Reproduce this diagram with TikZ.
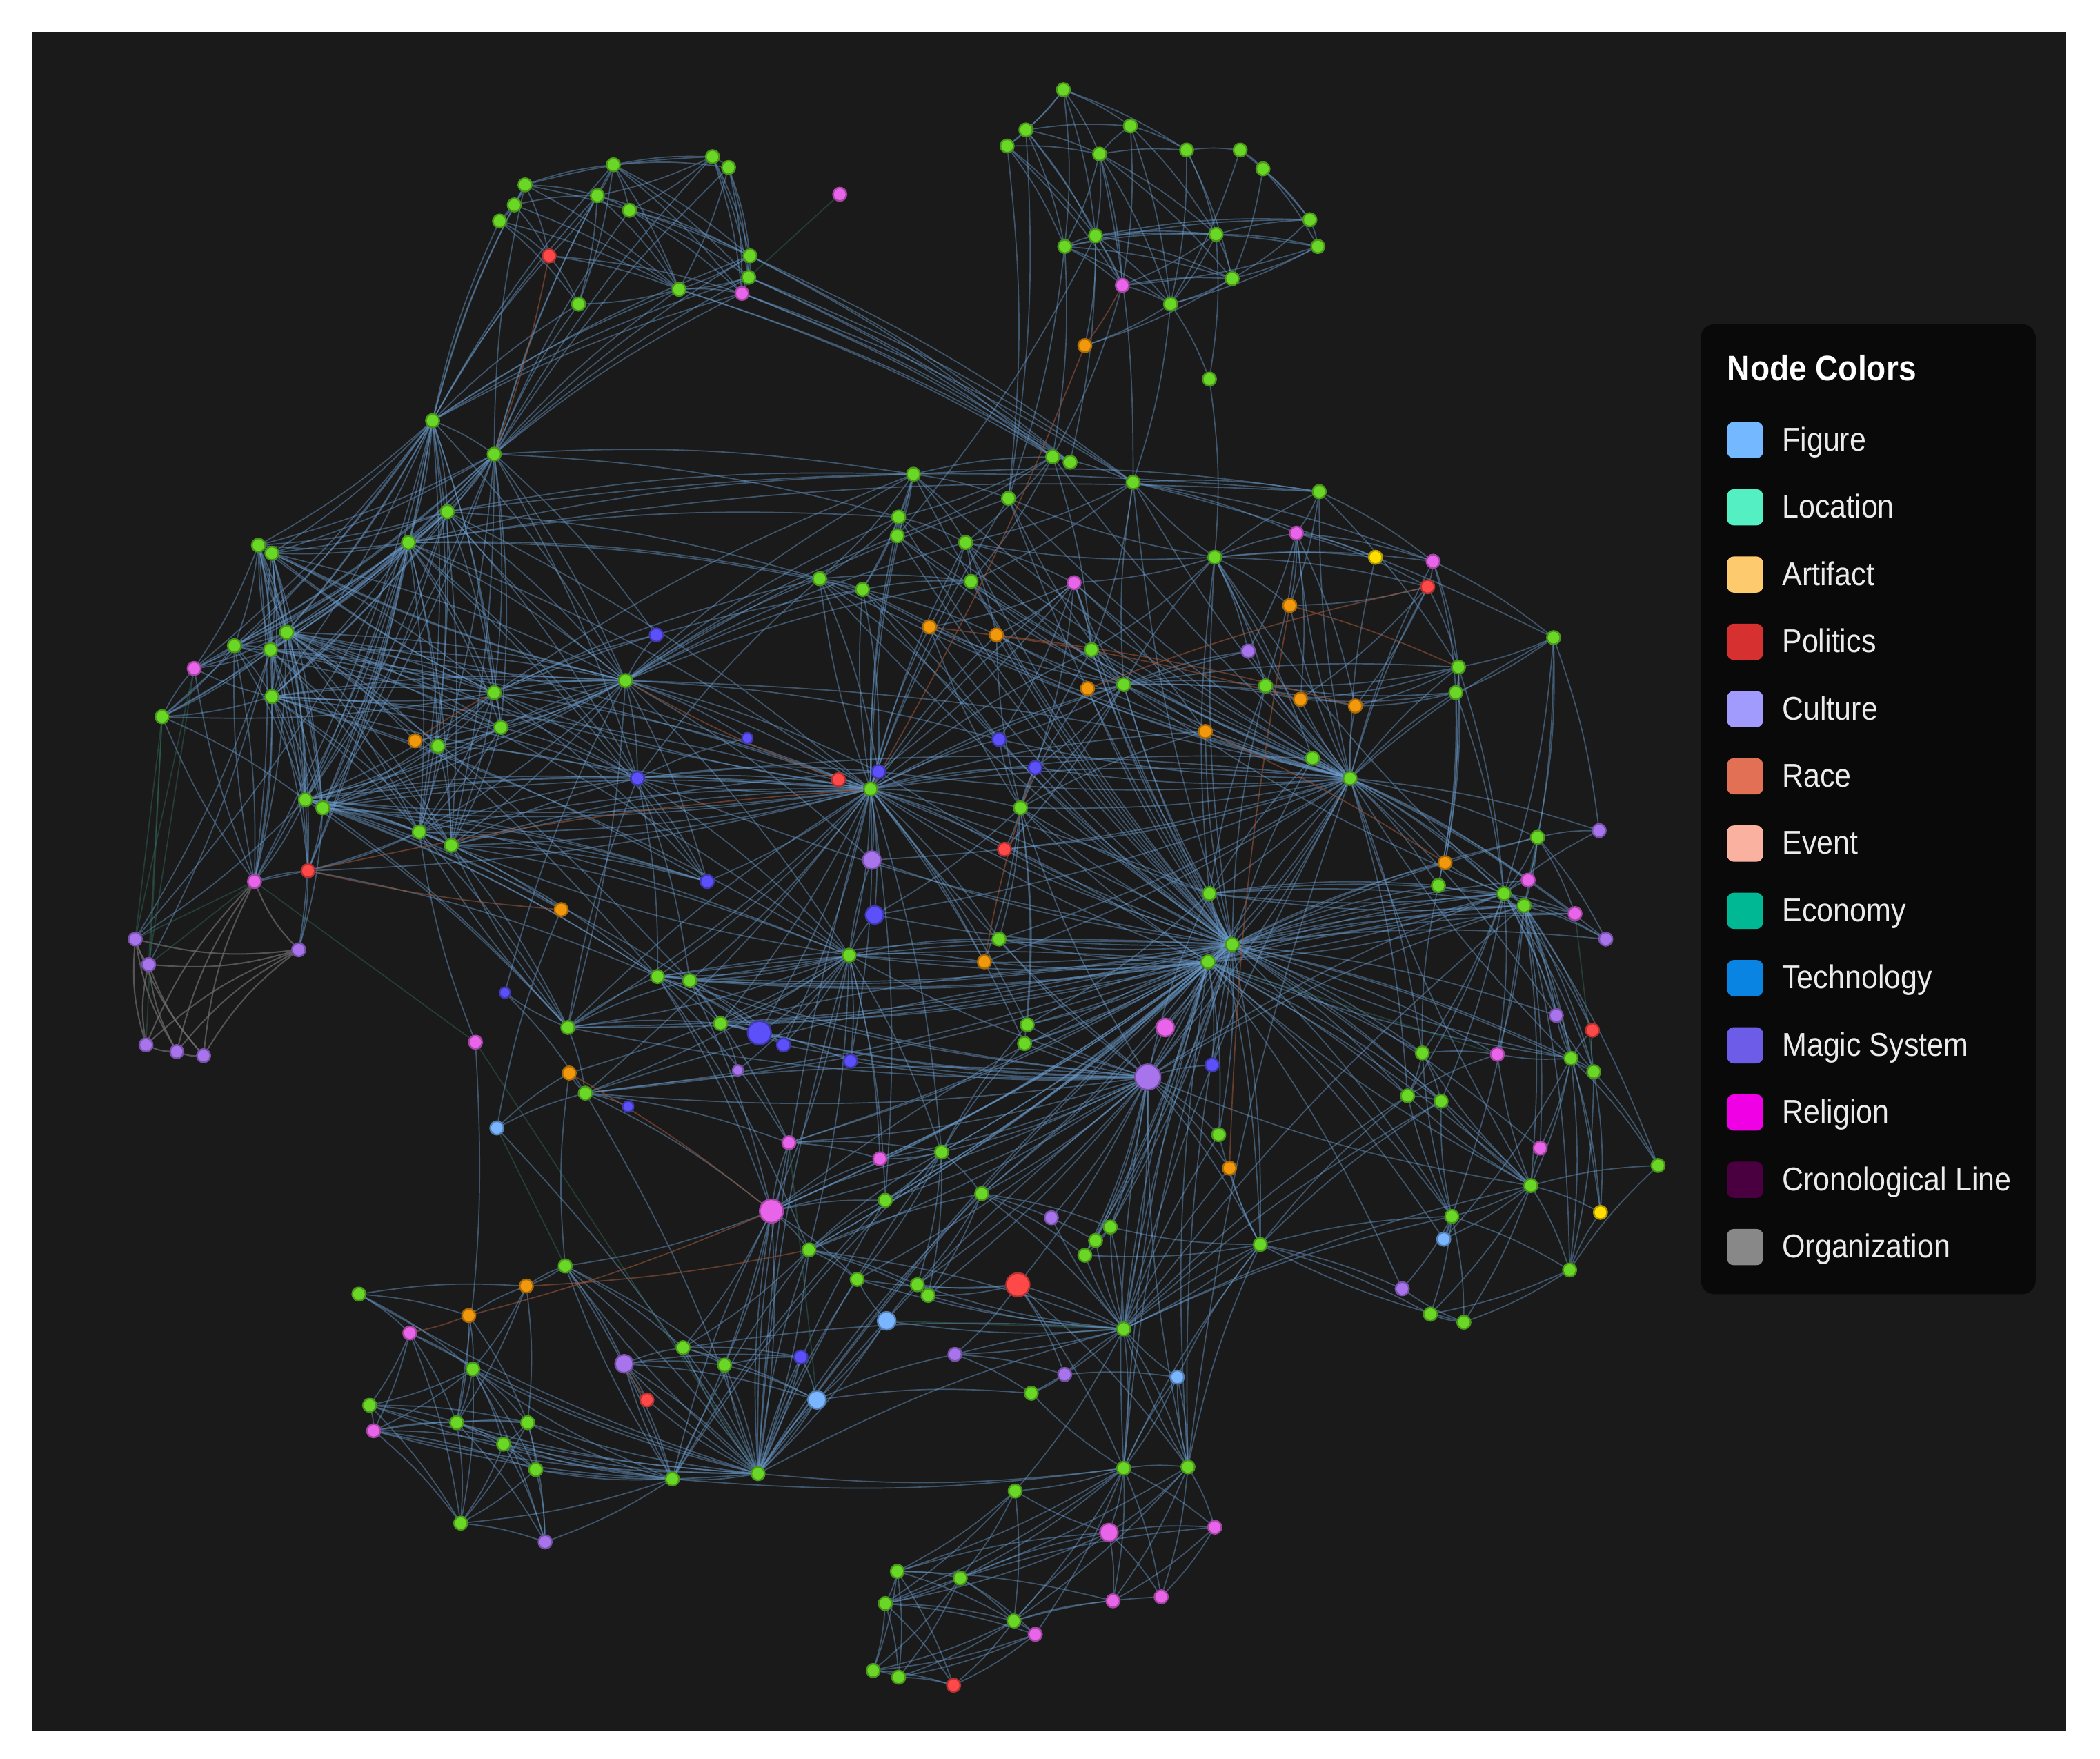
\documentclass[tikz,border=0pt]{standalone}
\usepackage{fontspec}
\setmainfont{Liberation Sans}
\newfontfamily\legendfont[FakeStretch=0.9]{Liberation Sans}
\usepackage{xcolor}
\usepackage{tikz}
\usetikzlibrary{backgrounds, positioning}

\definecolor{panelgrey}{RGB}{26,26,26}
\definecolor{legendbg}{RGB}{9,9,9}
\definecolor{edgeblue}{RGB}{110,160,210}
\definecolor{edgerust}{RGB}{150,85,60}
\definecolor{edgeteal}{RGB}{60,130,110}
\definecolor{edgegrey}{RGB}{110,110,110}
\definecolor{nodegreen}{RGB}{106,214,38}
\definecolor{nodepink}{RGB}{232,100,232}
\definecolor{nodered}{RGB}{255,72,72}
\definecolor{nodeorange}{RGB}{242,152,12}
\definecolor{nodelilac}{RGB}{168,116,236}
\definecolor{nodemagic}{RGB}{92,80,250}
\definecolor{nodesky}{RGB}{122,182,255}
\definecolor{nodeyellow}{RGB}{255,222,0}
% legend swatches
\definecolor{catfigure}{RGB}{116,185,255}
\definecolor{catlocation}{RGB}{85,239,196}
\definecolor{catartifact}{RGB}{253,203,110}
\definecolor{catpolitics}{RGB}{214,48,49}
\definecolor{catculture}{RGB}{162,155,254}
\definecolor{catrace}{RGB}{225,112,85}
\definecolor{catevent}{RGB}{250,177,160}
\definecolor{cateconomy}{RGB}{0,184,148}
\definecolor{cattech}{RGB}{9,132,227}
\definecolor{catmagic}{RGB}{108,92,231}
\definecolor{catreligion}{RGB}{240,0,228}
\definecolor{catchrono}{RGB}{74,0,64}
\definecolor{catorg}{RGB}{136,136,136}

\begin{document}
\begin{tikzpicture}[
                x=0.01cm, y=-0.01cm,
                dot/.style={circle, inner sep=0pt, minimum size=1mm, line width=0.35pt},
                limedot/.style={dot, fill=nodegreen, draw=nodegreen!70!black},
                pinkdot/.style={dot, fill=nodepink, draw=nodepink!70!black},
                reddot/.style={dot, fill=nodered, draw=nodered!70!black},
                orangedot/.style={dot, fill=nodeorange, draw=nodeorange!70!black},
                lilacdot/.style={dot, fill=nodelilac, draw=nodelilac!70!black},
                magicdot/.style={dot, fill=nodemagic, draw=nodemagic!70!black},
                skydot/.style={dot, fill=nodesky, draw=nodesky!70!black},
                yellowdot/.style={dot, fill=nodeyellow, draw=nodeyellow!70!black},
                tiny/.style={minimum size=0.8mm},
                big/.style={minimum size=1.35mm},
                huge/.style={minimum size=1.75mm},
                link/.style={line width=0.25pt, draw=edgeblue, draw opacity=0.45},
                racelink/.style={line width=0.25pt, draw=edgerust, draw opacity=0.6},
                tealink/.style={line width=0.25pt, draw=edgeteal, draw opacity=0.35},
                greylink/.style={line width=0.3pt, draw=edgegrey, draw opacity=0.7},
                swatch/.style={rectangle, rounded corners=0.05cm, inner sep=0pt, minimum size=0.27cm},
                legtext/.style={inner sep=0pt, text=white!92!black, font=\legendfont\fontsize{7}{8}\selectfont},
                legtitle/.style={inner sep=0pt, text=white, font=\legendfont\bfseries\fontsize{7.5}{9}\selectfont}
            ]
                \useasboundingbox (0,0) rectangle (1568,1313);
                \begin{scope}[on background layer]
                    \fill[white] (0,0) rectangle (1568,1313);
                    \fill[panelgrey] (24,24) rectangle (1543,1292);
                \end{scope}

                % Green nodes
                \foreach \i/\x/\y in {1/392/138, 2/458/123, 3/532/117, 4/544/125, 5/384/153, 6/446/146, 7/470/157, 8/373/165,
                    10/560/191, 11/559/207, 12/507/216, 14/432/227,
                    16/794/67, 17/766/97, 18/752/109, 19/821/115, 20/844/94, 21/886/112, 22/926/112, 23/943/126,
                    24/795/184, 25/818/176, 26/908/175, 27/978/164, 28/984/184, 30/920/208, 31/874/227, 33/903/283,
                    34/323/314, 35/369/339, 36/334/382, 37/305/405, 38/193/407, 39/203/413, 40/214/472, 41/175/482,
                    42/202/485, 44/121/535, 45/203/520, 46/369/517, 47/374/543, 48/467/508, 51/327/557, 52/228/597,
                    53/241/603, 54/313/621, 55/337/631, 71/424/767, 73/437/816, 75/491/729, 76/515/732, 77/538/764, 84/604/933,
                    85/682/354, 86/753/372, 87/786/341, 88/799/345, 89/846/360, 90/985/367, 91/671/386, 92/670/400,
                    93/721/405, 94/612/432, 95/644/440, 96/725/434, 98/907/416, 106/815/485, 107/839/511, 110/945/512,
                    113/1089/498, 114/1087/517, 115/1160/476, 121/650/589, 122/762/603, 123/980/566, 124/1008/581,
                    128/634/713, 129/746/701, 131/903/667, 132/920/705, 133/902/718, 135/1074/661, 136/1148/625,
                    139/1123/667, 140/1138/676, 143/767/765, 144/765/779, 148/910/847, 150/703/860, 152/661/896,
                    153/733/891, 155/829/916, 156/818/926, 157/810/937, 158/941/929, 159/1062/786, 163/1173/790,
                    164/1190/800, 165/1051/818, 166/1076/822, 168/1143/885, 169/1238/870, 171/1084/908, 173/1172/948,
                    175/1068/981, 176/1093/987, 177/640/955, 178/685/959, 179/693/967, 182/839/992, 183/268/966,
                    187/422/945, 190/510/1006, 191/541/1019, 196/770/1040, 198/353/1022, 199/276/1049, 201/341/1062,
                    202/394/1062, 203/376/1078, 204/400/1097, 205/502/1104, 206/566/1100, 207/344/1137, 209/839/1096,
                    210/887/1095, 211/758/1113, 214/670/1173, 215/717/1178, 216/661/1197, 217/757/1210, 221/652/1247,
                    222/671/1252}
                    \node[limedot] (n\i) at (\x,\y) {};

                % Religion nodes
                \foreach \i/\x/\y in {13/554/219, 15/627/145, 29/838/213, 43/145/499, 56/190/658, 69/355/778, 82/589/853,
                    97/802/435, 99/968/398, 101/1070/419, 138/1141/657, 141/1176/682, 151/657/865, 160/1118/787,
                    167/1150/857, 184/306/995, 200/279/1068, 213/907/1140, 218/773/1220, 219/831/1195, 220/867/1192}
                    \node[pinkdot] (n\i) at (\x,\y) {};
                \node[pinkdot, huge] (n83) at (576,904) {};
                \node[pinkdot, big] (n145) at (870,767) {};
                \node[pinkdot, big] (n212) at (828,1144) {};

                % Politics nodes
                \foreach \i/\x/\y in {9/410/191, 57/230/650, 102/1066/438, 120/626/582, 125/750/634, 162/1189/769,
                    189/483/1045, 223/712/1258}
                    \node[reddot] (n\i) at (\x,\y) {};
                \node[reddot, huge] (n180) at (760,959) {};

                % Artifact nodes
                \foreach \i/\x/\y in {32/810/258, 50/310/553, 67/419/679, 72/425/801, 103/963/452, 104/694/468,
                    105/744/474, 108/812/514, 111/971/522, 112/1012/527, 116/900/546, 130/735/718, 134/1079/644,
                    149/918/872, 185/350/982, 186/393/960}
                    \node[orangedot] (n\i) at (\x,\y) {};

                % Culture nodes
                \foreach \i/\x/\y in {58/101/701, 59/111/720, 60/223/709, 61/109/780, 62/132/785, 63/152/788,
                    109/932/486, 137/1194/620, 142/1199/701, 154/785/909, 161/1162/758, 174/1047/962, 194/713/1011,
                    195/795/1026, 208/407/1151}
                    \node[lilacdot] (n\i) at (\x,\y) {};
                \node[lilacdot, tiny] (n80) at (551,799) {};
                \node[lilacdot, big] (n126) at (651,642) {};
                \node[lilacdot, minimum size=1.9mm] (n146) at (857,804) {};
                \node[lilacdot, big] (n188) at (466,1018) {};

                % Magic system nodes
                \foreach \i/\x/\y in {49/490/474, 64/476/581, 66/528/658, 79/585/780, 81/635/792, 117/746/552,
                    118/773/573, 119/656/576, 147/905/795, 192/598/1013}
                    \node[magicdot] (n\i) at (\x,\y) {};
                \foreach \i/\x/\y in {65/558/551, 68/377/741, 74/469/826}
                    \node[magicdot, tiny] (n\i) at (\x,\y) {};
                \node[magicdot, huge] (n78) at (567,771) {};
                \node[magicdot, big] (n127) at (653,683) {};

                % Figure nodes
                \foreach \i/\x/\y in {70/371/842, 172/1078/925, 197/879/1028}
                    \node[skydot] (n\i) at (\x,\y) {};
                \node[skydot, big] (n181) at (662,986) {};
                \node[skydot, big] (n193) at (610,1045) {};

                \node[yellowdot] (n100) at (1027,416) {};
                \node[yellowdot] (n170) at (1195,905) {};

                % Edges
                \begin{scope}[on background layer]
                \foreach \s/\tl in {
                    1/{2,3,5,6,8,9,10,12}, 2/{3,4,6,7,10,11,12,13,14}, 3/{4,6,7,10,11,13}, 4/{10,11,12,13},
                    5/{6,8,9,12}, 6/{7,9,10,12,14}, 7/{10,11,12,13}, 8/{9,12,14}, 9/{12,13,14},
                    10/{11,12,13,87,88,89}, 11/{12,13,87,88,89}, 12/{13,14,87,88}, 13/{87,88,89},
                    34/{1,2,5,6,8,9,10,11,12,13,14,35,36,37,38,39,40,41,42,43,44,45,46,47,48,51,52,53,54,55,56,57},
                    35/{1,2,3,4,6,7,10,11,12,13,14,36,37,38,39,40,41,42,43,45,46,47,48,49,52,53,54,55,64,85,91},
                    16/{17,18,19,20,21,24,25}, 17/{18,19,20,24,25,29,86}, 18/{19,24,25,29,86},
                    19/{20,21,24,25,26,29,30,31,89}, 20/{21,26,29,31}, 21/{22,26,30,31}, 22/{23,27,31},
                    23/{27,28,30}, 24/{25,26,27,29,30,31,86,87}, 25/{26,27,28,29,30,31,32,88,92},
                    26/{27,28,29,30,31,33}, 27/{28,30}, 28/{29,30,31}, 29/{30,31,87}, 30/{31,32},
                    31/{32,33,89}, 33/{98},
                    37/{38,39,40,41,42,43,45,46,47,48,51,52,53,54,55,56,57,58,64,66,85,91,90,94,95,121},
                    36/{37,38,39,40,41,42,44,45,46,48,52,53,54,64,85,90,94,121},
                    38/{40,41,42,43,45,52,53,56}, 39/{40,42,45,46,48,52,53}, 41/{42,43,44,45,52,56},
                    40/{38,39,41,42,43,44,45,46,47,48,50,51,52,53,54,55,56,57,64,75,76,121,128},
                    42/{38,39,41,43,44,45,46,47,48,52,53,54,55,56,57,58,59,121},
                    45/{43,44,46,47,48,52,53,54,55,56,57,64,66,121,128},
                    46/{38,39,41,44,47,48,49,51,52,53,54,55,64,66,85,94,95,121},
                    47/{48,51,52,53,54,55,64}, 51/{52,53,54,55,64},
                    48/{36,38,39,40,42,45,47,49,50,51,52,53,54,55,64,65,66,71,85,86,91,92,93,94,95,96,117,119,121,124,126,128},
                    52/{53,54,55,56,58,60,64,66,67,71,75,76,121,128}, 53/{54,55,57,60,64,66,71,75,121},
                    54/{55,56,57,64,66,67,71,121}, 55/{64,66,71,75,119,121,128},
                    56/{57,41,43,44}, 57/{60,75}, 44/{43,52},
                    64/{65,66,75,76,94,119,121,124,128},
                    121/{40,45,46,52,53,54,55,57,64,66,71,73,75,76,77,78,79,81,85,86,91,92,93,94,95,96,97,104,105,106,107,109,116,117,118,119,120,122,123,124,125,126,127,128,129,130,131,132,133,143,144,150,152},
                    124/{85,86,87,89,90,91,92,93,94,95,96,97,98,99,100,101,102,103,104,105,106,107,109,110,111,112,113,114,115,116,117,118,119,122,123,125,126,127,129,130,131,132,133,134,135,136,137,138,139,140,141,142,146,159,161,165},
                    132/{64,71,73,75,76,77,82,83,84,85,86,89,91,92,93,94,95,96,97,98,104,105,106,107,108,110,116,117,118,119,121,122,123,125,126,127,128,129,131,133,134,135,136,138,139,140,141,142,143,144,145,146,147,148,150,151,152,153,155,157,158,159,160,161,163,164,165,166,167,168,171},
                    133/{71,73,75,76,77,82,83,84,121,122,128,129,130,136,139,140,141,143,144,145,146,147,148,150,151,152,153,155,156,157,159,165,166,168,171,172,174},
                    146/{71,73,75,76,77,78,79,81,82,83,84,121,122,124,128,129,131,139,140,143,144,145,147,148,149,150,151,152,153,154,155,156,157,158,177,178,179,180,182},
                    131/{98,106,107,110,122,123,135,139,140,143,158},
                    107/{86,89,92,93,96,97,98,104,105,106,108,109,110,111,112,113,116,117,118,122,125},
                    98/{86,89,90,93,97,99,100,101,102,103,106,109,110,123},
                    122/{104,105,106,108,116,117,118,125,127,129,130,143,144},
                    128/{55,71,72,73,75,76,77,78,79,80,81,83,84,126,127,129,130,150,151,152},
                    85/{86,87,90,91,92,93,94,95}, 87/{88,89,91,92,93,96,106}, 89/{90,93,96,99,101,106,115},
                    90/{99,101,103,113}, 91/{92,93,94,95}, 94/{95,96,104,117,119}, 95/{96,105,117,119},
                    93/{96,97,104,105}, 97/{104,105,106,116,117,118,119},
                    99/{100,101,102,103,109,110,111,112}, 101/{102,113,114,115}, 102/{103,111,112,113},
                    113/{110,111,112,114,134,135,139}, 114/{110,111,112,134,135,139},
                    115/{113,114,136,137,139,140}, 136/{137,138,139,140,141,142},
                    139/{98,107,131,132,133,134,135,137,138,140,141,142,159,160,161,162,163,164,165,166},
                    140/{131,133,141,142,160,161,162,163,164,167,168,169,170,172,173},
                    163/{124,132,133,160,161,162,164,167,168,169,170,172,173}, 164/{161,162,169,170,173},
                    168/{124,133,146,159,160,165,166,167,169,170,171,172,173,175,176},
                    171/{159,165,166,172,173,174,175,176}, 173/{169,170,175,176}, 176/{174,175,158},
                    158/{148,149,155,157,165,166,171,174,175,182}, 159/{135,160,165,166}, 165/{160,166},
                    71/{54,55,64,68,73,75,76,77,121}, 73/{72,74,82,83,133,146,206}, 68/{48,73},
                    69/{54,201}, 70/{67,72,73,206},
                    75/{76,77,78,79,82,83,84,132,133}, 76/{77,78,79,82,83,132}, 77/{78,79,80,81,133},
                    83/{82,84,132,150,151,152,177,187,190,191,205,206},
                    84/{150,152,153,177,178,179,182,190,206}, 82/{150,151},
                    150/{143,144,151,152,153,177,178,179}, 153/{155,156,157,178,179,182}, 155/{156,157,182},
                    180/{177,178,179,182,194,195,209,210}, 181/{177,178,193,206},
                    187/{72,186,188,190,191,205,206}, 188/{189,190,191,192,193,205,206},
                    190/{182,191,192,193,206}, 191/{192,193,206}, 192/{193,206}, 193/{194,196,206},
                    194/{182,195,196}, 195/{182,196,197}, 197/{158,182,209,210},
                    182/{124,132,133,140,148,149,154,155,156,157,158,165,166,168,171,177,178,179,181,194,196,209,210,211},
                    206/{82,83,84,121,128,132,133,146,150,152,153,177,182,183,184,187,188,189,190,191,192,193,198,199,200,201,202,203,204,205},
                    205/{83,84,150,152,187,188,198,199,200,201,202,203,204,207,208},
                    183/{184,185,186,198}, 184/{198,199,200,201,207}, 185/{186,198,201,202},
                    186/{187,198,201,202}, 198/{199,200,201,202,203,204,207,208}, 199/{200,201,202,207},
                    200/{201,202,203,204,207}, 201/{202,203,204,207,208}, 202/{203,204,207,208},
                    203/{204,207,208}, 204/{207,208}, 207/{208},
                    209/{132,133,146,158,196,197,205,206,210,211,212,213,214,215,216,217,218,219,220},
                    210/{124,132,133,146,158,182,197,212,213,216,217,219,220}, 211/{214,215,216,217}, 212/{211,213,216,219,220},
                    213/{219,220}, 214/{212,215,216,217,219,221,222,223}, 215/{212,213,216,217,218,221,222},
                    216/{217,218,221,222,223}, 217/{212,218,219,220,221,222,223}, 218/{221,222,223},
                    221/{222,223}, 222/{223}}
                    {\foreach \t in \tl {\draw[link] (n\s) to[bend left=6] (n\t);}}

                % Culture cluster links
                \foreach \s/\tl in {58/{59,60,61,62,63}, 59/{60,61,62,63}, 60/{61,62,63}, 61/{62}, 62/{63}, 56/{60,61,62,63}}
                    {\foreach \t in \tl {\draw[greylink] (n\s) to[bend right=10] (n\t);}}

                % race and artifact links
                \foreach \s/\t in {32/121, 29/32, 57/121, 9/35, 83/185, 84/186, 67/57, 104/111, 103/113,
                    120/48, 108/102, 105/112, 50/46, 189/188, 185/184, 130/118, 149/103, 116/134, 72/83}
                    \draw[racelink] (n\s) to[bend left=4] (n\t);
                \foreach \s/\t in {15/11, 43/58, 44/61, 56/58, 56/59, 69/206, 70/187, 69/56, 181/182, 82/193,
                    133/160, 138/136, 141/164, 43/59, 44/58, 44/59}
                    \draw[tealink] (n\s) -- (n\t);
                \end{scope}

                % Legend
                \fill[legendbg, rounded corners=0.1cm] (1270,242) rectangle (1520,966);
                \node[legtitle, anchor=base west] (legtitle) at (1289,284) {Node Colors};
                \foreach \lab/\col [count=\r from 0] in {Figure/catfigure, Location/catlocation, Artifact/catartifact,
                    Politics/catpolitics, Culture/catculture, Race/catrace, Event/catevent, Economy/cateconomy,
                    Technology/cattech, Magic System/catmagic, Religion/catreligion, Cronological Line/catchrono,
                    Organization/catorg} {
                    \node[swatch, fill=\col] (sw\r) at (1303,{328.5+50.2*\r}) {};
                    \node[legtext, anchor=base west] (lab\r) at (1330,{336.5+50.2*\r}) {\lab};
                }
            \end{tikzpicture}
\end{document}
